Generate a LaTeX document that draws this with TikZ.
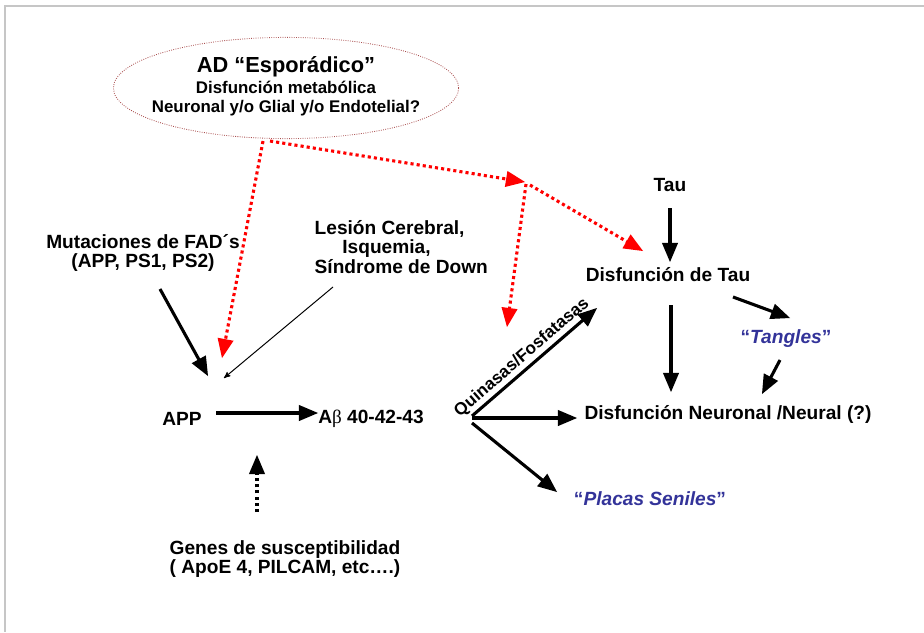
\documentclass[tikz,border=0pt]{standalone}
\usepackage{fontspec}
\setmainfont{Liberation Sans}
\newfontfamily\symfont{Liberation Serif}
\usetikzlibrary{arrows,calc,shapes.geometric}

\definecolor{redline}{RGB}{255,0,0}
\definecolor{ovalline}{RGB}{170,80,80}
\definecolor{italblue}{RGB}{51,51,153}

\tikzset{
  lbl/.style={font=\bfseries\fontsize{13.6}{13.6}\selectfont, inner sep=1pt},
  thickarrow/.style={line width=2.2pt},
  redarrow/.style={draw=redline, line width=2.2pt, dash pattern=on 2.2pt off 2.2pt}
}

\begin{document}
\begin{tikzpicture}[x=0.025cm,y=-0.025cm,->,>=triangle 45]

  \useasboundingbox (0,0) rectangle (924,632);
  \draw[-, gray!45, line width=1.4pt] (924,6) -- (5,6) -- (5,632);

  % sporadic AD oval
  \node[ellipse,
        draw = ovalline,
        densely dotted,
        line width = 0.6pt,
        minimum width = 8.63cm,
        minimum height = 2.53cm
        ] (head) at (286,88) {};
  \node[font=\bfseries\fontsize{12}{13.5}\selectfont,
        align = center
        ] (headtxt) at (286,86) {{\fontsize{15.5}{15.5}\selectfont AD “Esporádico”}\\[1.5pt]
        Disfunción metabólica\\ Neuronal y/o Glial y/o Endotelial?};

  % causes
  \node[lbl,
        align = center
        ] (mut) at (143,253) {Mutaciones de FAD´s\\(APP, PS1, PS2)};
  \node[lbl,
        align = left,
        anchor = west
        ] (lesion) at (313,247) {Lesión Cerebral,\\\hspace*{1.45em}Isquemia,\\ Síndrome de Down};
  \node[lbl,
        align = center
        ] (genes) at (285,559) {Genes de susceptibilidad\\( ApoE 4, PILCAM, etc….)};

  % amyloid
  \node[lbl] (app) at (182,419) {APP};
  \node[lbl] (abeta) at (371,419) {A{\symfont\mdseries β} 40-42-43};

  % tau branch
  \node[lbl] (tau) at (670,185) {Tau};
  \node[lbl] (distau) at (668,275) {Disfunción de Tau};
  \node[lbl,
        text = italblue
        ] (tangles) at (786,339) {“\textit{Tangles}”};
  \node[lbl] (neur) at (728,414) {Disfunción Neuronal /Neural (?)};
  \node[lbl,
        text = italblue
        ] (placas) at (650,499) {“\textit{Placas Seniles}”};

  \coordinate (redfork) at (525,182);
  \coordinate (split) at (471,419);

  \path[every edge/.style={draw, thickarrow}]
  %towards APP
  ($(mut)+(17,36)$) edge [] ($(app)+(26,-43)$)
  ($(lesion.west)+(20,40)$) edge [line width=0.7pt, >=stealth'] ($(app)+(42,-41)$)
  ($(genes)+(-28,-47)$) edge [dash pattern=on 2.2pt off 2.2pt] ($(app)+(75,36)$)
  ($(app)+(34,-6)$) edge [] ($(abeta)+(-53,-6)$)
  %tau branch
  ($(tau)+(0,23)$) edge [] ($(distau)+(2,-13)$)
  ($(distau)+(3,30)$) edge [] ($(neur)+(-57,-22)$)
  ($(distau)+(65,22)$) edge [] ($(tangles)+(4,-21)$)
  ($(tangles)+(-6,21)$) edge [] ($(neur)+(34,-20)$)
  %fork
  ($(split)+(1,-3)$) edge [] node [above, sloped, pos=0.46, inner sep=1.5pt, font=\bfseries\fontsize{12.2}{12}\selectfont] {Quinasas/Fosfatasas} ($(distau)+(-71,33)$)
  ($(split)+(1,-1)$) edge [] ($(neur)+(-151,4)$)
  ($(split)+(1,4)$) edge [] ($(placas)+(-93,-7)$);

  \path[every edge/.style={draw, redarrow}]
  ($(head.south)+(-23,2)$) edge [] ($(app)+(40,-61)$)
  ($(head.south)+(-16,2)$) edge [] (redfork)
  ($(redfork)+(1,2)$) edge [] ($(split)+(36,-92)$)
  ($(redfork)+(5,3)$) edge [] ($(distau)+(-25,-24)$);

\end{tikzpicture}
\end{document}
